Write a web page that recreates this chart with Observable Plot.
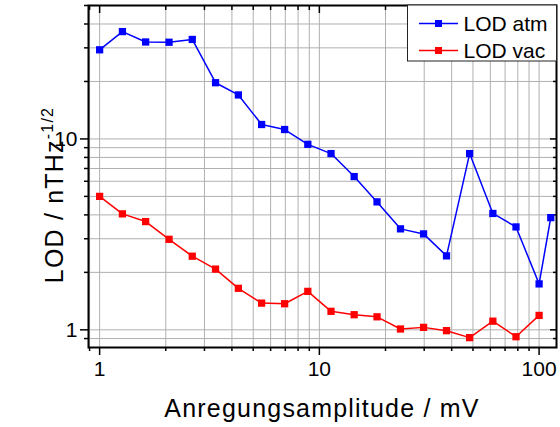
<!DOCTYPE html>
<html><head><meta charset="utf-8">
<script src="https://cdn.jsdelivr.net/npm/d3@7"></script>
<script src="https://cdn.jsdelivr.net/npm/@observablehq/plot@0.6"></script>
<style>body{margin:0;background:#fff;font-family:"Liberation Sans",Arial,sans-serif}</style>
</head><body><div id="chart"></div>
<script>
const amplitude = [1, 1.27, 1.62, 2.07, 2.64, 3.37, 4.28, 5.46, 6.95, 8.86, 11.3, 14.4, 18.3, 23.4, 29.8, 37.9, 48.3, 61.6, 78.5, 100, 113];
const lodAtm = [29.3, 36.5, 32.2, 32.1, 33.2, 19.7, 17.0, 11.9, 11.2, 9.37, 8.38, 6.35, 4.68, 3.38, 3.18, 2.44, 8.38, 4.07, 3.46, 1.74, 3.87];
const lodVac = [5.0, 4.05, 3.69, 2.98, 2.43, 2.08, 1.65, 1.38, 1.37, 1.59, 1.25, 1.2, 1.17, 1.01, 1.03, 0.99, 0.91, 1.11, 0.92, 1.19];
const xMajorTicks = [1, 10, 100];
const xMinorTicks = [0.9, 2, 3, 4, 5, 6, 7, 8, 9, 20, 30, 40, 50, 60, 70, 80, 90];
const yMajorTicks = [1, 10];
const yMinorTicks = [0.9, 2, 3, 4, 5, 6, 7, 8, 9, 20, 30, 40, 50];
const seriesNames = ["LOD atm", "LOD vac"];
const seriesColors = ["#0000ff", "#ff0000"];
const xTitle = "Anregungsamplitude / mV";
const yTitle = "LOD / nTHz";
const yTitleSup = "-1/2";

const atmData = amplitude.map((x, i) => ({x, y: lodAtm[i]}));
const vacData = lodVac.map((y, i) => ({x: amplitude[i], y}));
const gridCol = "#b0b0b0";
const fmt = d => String(d);
const blank = () => "";

const chart = Plot.plot({
  width: 560, height: 427,
  marginLeft: 88, marginRight: 4, marginTop: 5, marginBottom: 80,
  style: {fontFamily: '"Liberation Sans", Arial, sans-serif', background: "white", color: "black"},
  x: {type: "log", domain: [0.89, 120]},
  y: {type: "log", domain: [0.808, 50]},
  marks: [
    Plot.gridX([...xMinorTicks, ...xMajorTicks], {stroke: gridCol, strokeOpacity: 1, strokeWidth: 1}),
    Plot.gridY([...yMinorTicks, ...yMajorTicks], {stroke: gridCol, strokeOpacity: 1, strokeWidth: 1}),
    Plot.axisX(xMajorTicks, {anchor: "bottom", tickSize: 8, tickPadding: 6, fontSize: 21, tickFormat: fmt, label: null, strokeWidth: 1.5}),
    Plot.axisX(xMinorTicks, {anchor: "bottom", tickSize: 4, tickFormat: blank, label: null, strokeWidth: 1.5}),
    Plot.axisX(xMajorTicks, {anchor: "top", tickSize: -7, tickFormat: blank, label: null, strokeWidth: 1.5}),
    Plot.axisX(xMinorTicks, {anchor: "top", tickSize: -4, tickFormat: blank, label: null, strokeWidth: 1.5}),
    Plot.axisY(yMajorTicks, {anchor: "left", tickSize: 8, tickPadding: 3, fontSize: 21, tickFormat: fmt, label: null, strokeWidth: 1.5}),
    Plot.axisY(yMinorTicks, {anchor: "left", tickSize: 4, tickFormat: blank, label: null, strokeWidth: 1.5}),
    Plot.axisY(yMajorTicks, {anchor: "right", tickSize: -7, tickFormat: blank, label: null, strokeWidth: 1.5}),
    Plot.axisY(yMinorTicks, {anchor: "right", tickSize: -4, tickFormat: blank, label: null, strokeWidth: 1.5}),
    Plot.line(atmData, {x: "x", y: "y", stroke: seriesColors[0], strokeWidth: 1.5}),
    Plot.dot(atmData, {x: "x", y: "y", symbol: "square", fill: seriesColors[0], r: 4.1}),
    Plot.line(vacData, {x: "x", y: "y", stroke: seriesColors[1], strokeWidth: 1.5}),
    Plot.dot(vacData, {x: "x", y: "y", symbol: "square", fill: seriesColors[1], r: 4.1}),
    Plot.frame({stroke: "black", strokeWidth: 2})
  ]
});
document.getElementById("chart").appendChild(chart);

const svg = d3.select(chart);
const [x0, x1] = chart.scale("x").range;
const [yb, yt] = chart.scale("y").range;
const font = '"Liberation Sans", Arial, sans-serif';

// x title
svg.append("text").attr("x", (x0 + x1) / 2).attr("y", yb + 70)
  .attr("text-anchor", "middle").attr("font-family", font).attr("font-size", 25)
  .attr("letter-spacing", 1.2).attr("fill", "black").text(xTitle);

// y title with superscript
const yt_ = svg.append("text")
  .attr("transform", `translate(${x0 - 25},${(yb + yt) / 2 + 19}) rotate(-90)`)
  .attr("text-anchor", "middle").attr("font-family", font).attr("font-size", 25)
  .attr("letter-spacing", 1.2).attr("fill", "black");
yt_.append("tspan").text(yTitle);
yt_.append("tspan").attr("dy", -10).attr("font-size", 16).text(yTitleSup);

// legend
const lg = svg.append("g").attr("transform", `translate(${x1 - 149},${yt})`);
lg.append("rect").attr("x", 0.5).attr("y", 0).attr("width", 149).attr("height", 56)
  .attr("fill", "white").attr("stroke", "#222").attr("stroke-width", 1);
seriesNames.forEach((name, i) => {
  const cy = 18.5 + i * 27;
  lg.append("line").attr("x1", 12).attr("x2", 51).attr("y1", cy).attr("y2", cy)
    .attr("stroke", seriesColors[i]).attr("stroke-width", 1.5);
  lg.append("rect").attr("x", 28).attr("y", cy - 3.5).attr("width", 7).attr("height", 7)
    .attr("fill", seriesColors[i]);
  lg.append("text").attr("x", 56.5).attr("y", cy + 7).attr("text-anchor", "start")
    .attr("font-family", font).attr("font-size", 21).attr("fill", "black").text(name);
});
</script></body></html>
